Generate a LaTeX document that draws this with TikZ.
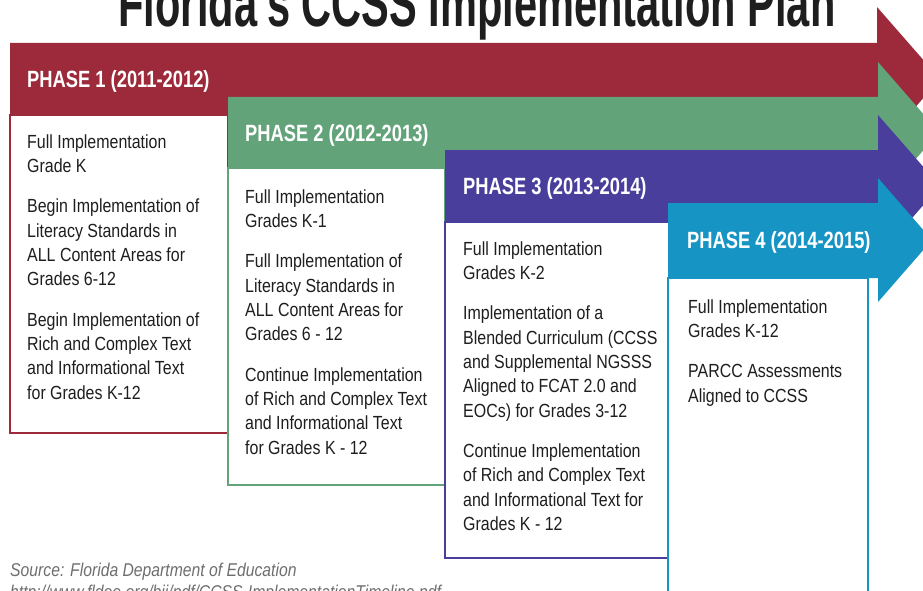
\documentclass[tikz,border=0pt]{standalone}
\usepackage{fontspec}
\setmainfont{Liberation Sans}
\newfontfamily\bodyfont{Liberation Sans}[FakeStretch=0.84]
\newfontfamily\headfont{Liberation Sans}[FakeStretch=0.78]
\newfontfamily\titlefont{Liberation Sans}[FakeStretch=0.63]
\newfontfamily\notefont{Liberation Sans}[FakeStretch=0.85]
\definecolor{phaseone}{RGB}{156,42,58}
\definecolor{phasetwo}{RGB}{98,163,122}
\definecolor{phasethree}{RGB}{74,62,156}
\definecolor{phasefour}{RGB}{22,148,196}
\definecolor{bodytext}{RGB}{30,30,30}
\definecolor{notegray}{RGB}{110,110,110}
\tikzset{
  phasehead/.style={anchor=base west, inner sep=0pt, text=white, font=\headfont\bfseries\fontsize{23.5}{28}\selectfont},
  phasebody/.style={anchor=north west, inner sep=0pt, align=left, text=bodytext, font=\bodyfont\fontsize{19}{24.3}\selectfont},
  phasebox/.style={fill=white, line width=1.5pt},
  note/.style={anchor=base west, inner sep=0pt, text=notegray, font=\notefont\itshape\fontsize{18.5}{22}\selectfont}
}
\begin{document}
\begin{tikzpicture}[x=1pt, y=-1pt]
\useasboundingbox (0,0) rectangle (923,591);
\clip (0,0) rectangle (923,591);
\node[anchor=base, inner sep=0pt, text=bodytext, font=\titlefont\bfseries\fontsize{66}{70}\selectfont] (title) at (477,27) {Florida's CCSS Implementation Plan};

\fill[phaseone] (10,43) -- (877,43) -- (877,7) -- (940,79) -- (877,151) -- (877,115) -- (10,115) -- cycle;
\draw[phasebox, draw=phaseone] (10,115) rectangle (228,433);
\fill[phasetwo] (228,97) -- (878,97) -- (878,62) -- (939,132) -- (878,203) -- (878,168) -- (228,168) -- cycle;
\draw[phasebox, draw=phasetwo] (228,168) rectangle (445,485);
\fill[phasethree] (445,150) -- (878,150) -- (878,115) -- (940,186) -- (878,257) -- (878,222) -- (445,222) -- cycle;
\draw[phasebox, draw=phasethree] (445,222) rectangle (669,558);
\fill[phasefour] (668,203) -- (878,203) -- (878,178) -- (932,240) -- (878,302) -- (878,278) -- (668,278) -- cycle;
\draw[phasebox, draw=phasefour] (668,278) rectangle (868,620);

\node[phasehead] (p1head) at (27,87.5) {PHASE 1 (2011-2012)};
\node[phasehead] (p2head) at (245,141) {PHASE 2 (2012-2013)};
\node[phasehead] (p3head) at (463,194.5) {PHASE 3 (2013-2014)};
\node[phasehead] (p4head) at (687,248) {PHASE 4 (2014-2015)};

\node[phasebody] (p1body) at (27,134.4) {Full Implementation\\Grade K\\[16pt]
Begin Implementation of\\Literacy Standards in\\ALL Content Areas for\\Grades 6-12\\[16pt]
Begin Implementation of\\Rich and Complex Text\\and Informational Text\\for Grades K-12};
\node[phasebody] (p2body) at (245,189.4) {Full Implementation\\Grades K-1\\[16pt]
Full Implementation of\\Literacy Standards in\\ALL Content Areas for\\Grades 6 - 12\\[16pt]
Continue Implementation\\of Rich and Complex Text\\and Informational Text\\for Grades K - 12};
\node[phasebody] (p3body) at (463,241.4) {Full Implementation\\Grades K-2\\[16pt]
Implementation of a\\Blended Curriculum (CCSS\\and Supplemental NGSSS\\Aligned to FCAT 2.0 and\\EOCs) for Grades 3-12\\[16pt]
Continue Implementation\\of Rich and Complex Text\\and Informational Text for\\Grades K - 12};
\node[phasebody] (p4body) at (688,299.4) {Full Implementation\\Grades K-12\\[16pt]
PARCC Assessments\\Aligned to CCSS};

\node[note] (source) at (10,576) {Source: Florida Department of Education};
\node[note] (url) at (10,598) {http://www.fldoe.org/bii/pdf/CCSS-ImplementationTimeline.pdf};
\end{tikzpicture}
\end{document}
